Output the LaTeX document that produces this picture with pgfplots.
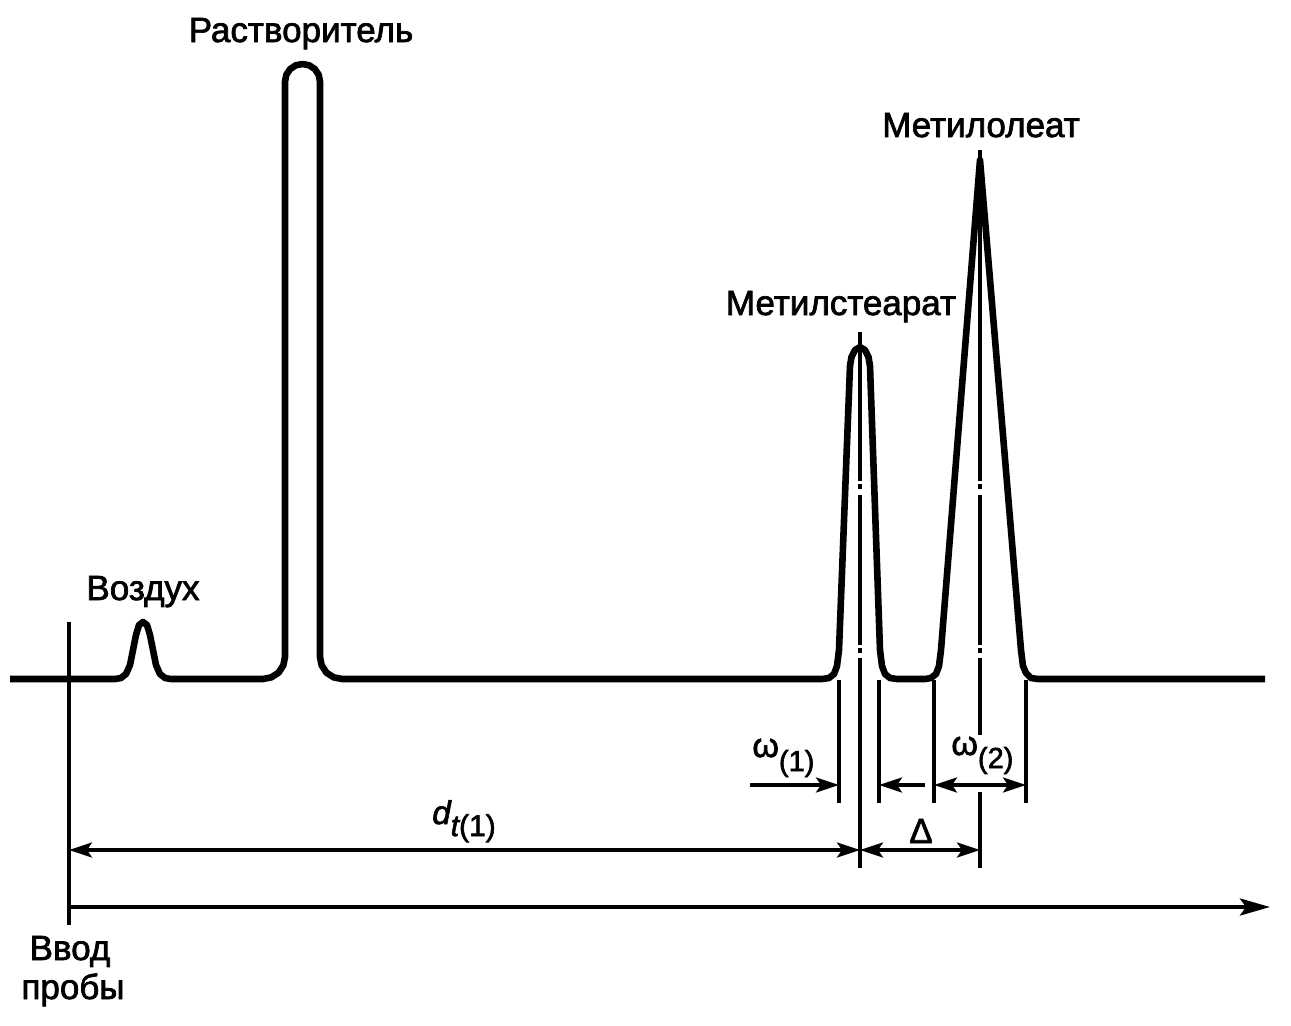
\documentclass[border=0pt]{standalone}
\usepackage{pgfplots}
\pgfplotsset{compat=1.18}
\usepackage{fontspec}
\setmainfont{Liberation Sans}[BoldFont=Liberation Sans, BoldFeatures={FakeBold=2}, BoldItalicFont=Liberation Sans Italic, BoldItalicFeatures={FakeBold=2}]
\usetikzlibrary{arrows.meta}
\newcommand{\lab}{\fontsize{17.5}{19}\selectfont\bfseries}
\begin{document}
\begin{tikzpicture}
\begin{axis}[hide axis, scale only axis, width=645.5pt, height=512.5pt,
  xmin=0, xmax=1291, ymin=0, ymax=1025, y dir=reverse, clip=false]
\path (axis cs:0,0) rectangle (axis cs:1291,1025);
% chromatogram trace
\addplot[black, line width=3.3pt, line join=round, mark=none] coordinates {
(10,679) (115,679) (121,678) (126,674) (130,665) (133,650) (136,635) (139,625) (143,622)
(147,625) (150,635) (153,650) (156,665) (160,674) (165,678) (171,679)
(263,679) (271.4,677.3) (278.6,672.6) (283.3,665.4) (285,657)
(285,81.5) (286.3,74.8) (290.1,69.1) (295.8,65.3) (302.5,64) (309.2,65.3) (314.9,69.1) (318.7,74.8) (320,81.5)
(320,657) (321.7,665.4) (326.4,672.6) (333.6,677.3) (342,679)
(822,679) (829,678) (834,674) (837,666) (839,650)
(850,366) (851.5,357) (855,350) (860,347) (865,350) (868.5,357) (870,366)
(880,650) (882,666) (885,674) (890,678) (897,679)
(925,679) (931,678) (936,674) (939,666) (941,650)
(980,160)
(1021,650) (1023,666) (1026,673) (1031,678) (1038,679) (1265,679)
};
% centre lines
\begin{scope}[line width=1.6pt]
\draw (860,332)--(860,481); \draw (860,484)--(860,489); \draw (860,495)--(860,645);
\draw (860,648)--(860,653); \draw (860,658)--(860,868);
\draw (980,150)--(980,481); \draw (980,484)--(980,489); \draw (980,495)--(980,645);
\draw (980,648)--(980,653); \draw (980,658)--(980,735); \draw (980,792)--(980,868);
% width lines
\draw (839,680)--(839,803); \draw (879,680)--(879,803);
\draw (934,680)--(934,803); \draw (1026,680)--(1026,803);
% arrows
\draw[-{Stealth[length=11.5pt,width=7.5pt,inset=2.5pt]}] (750,785)--(839,785);
\draw[-{Stealth[length=11.5pt,width=7.5pt,inset=2.5pt]}] (925,785)--(879,785);
\draw[{Stealth[length=11.5pt,width=7.5pt,inset=2.5pt]}-{Stealth[length=11.5pt,width=7.5pt,inset=2.5pt]}] (934,785)--(1026,785);
\draw[{Stealth[length=11.5pt,width=7.5pt,inset=2.5pt]}-{Stealth[length=11.5pt,width=7.5pt,inset=2.5pt]}] (69,850)--(860,850);
\draw[{Stealth[length=11.5pt,width=7.5pt,inset=2.5pt]}-{Stealth[length=11.5pt,width=7.5pt,inset=2.5pt]}] (860,850)--(980,850);
\draw[line width=2pt] (69,622)--(69,925);
\draw[line width=2pt, -{Stealth[length=15pt,width=8.5pt,inset=3pt]}] (69,907)--(1270,907);
\end{scope}
% labels
\node[anchor=base, font=\lab, inner sep=0] at (301,42) {Растворитель};
\node[anchor=base, font=\lab, inner sep=0] at (981,137) {Метилолеат};
\node[anchor=base, font=\lab, inner sep=0] at (841,315) {Метилстеарат};
\node[anchor=base, font=\lab, inner sep=0] at (143,600) {Воздух};
\node[anchor=base, font=\lab, inner sep=0] at (70,960) {Ввод};
\node[anchor=base, font=\lab, inner sep=0] at (73,999) {пробы};
\node[anchor=base west, inner sep=0] at (752,757) {\fontsize{17}{19}\selectfont\bfseries ω\raisebox{-7pt}{\fontsize{14.5}{16}\selectfont(1)}};
\node[anchor=base west, inner sep=0] at (951,755) {\fontsize{17}{19}\selectfont\bfseries ω\raisebox{-6.5pt}{\fontsize{14.5}{16}\selectfont(2)}};
\node[anchor=base west, inner sep=0] at (432,824) {\fontsize{16.5}{18}\selectfont\bfseries\itshape d\raisebox{-6pt}{\fontsize{15}{17}\selectfont t\upshape(1)}};
\node[anchor=base, font=\lab, inner sep=0] at (921,843) {Δ};
\end{axis}
\end{tikzpicture}
\end{document}
